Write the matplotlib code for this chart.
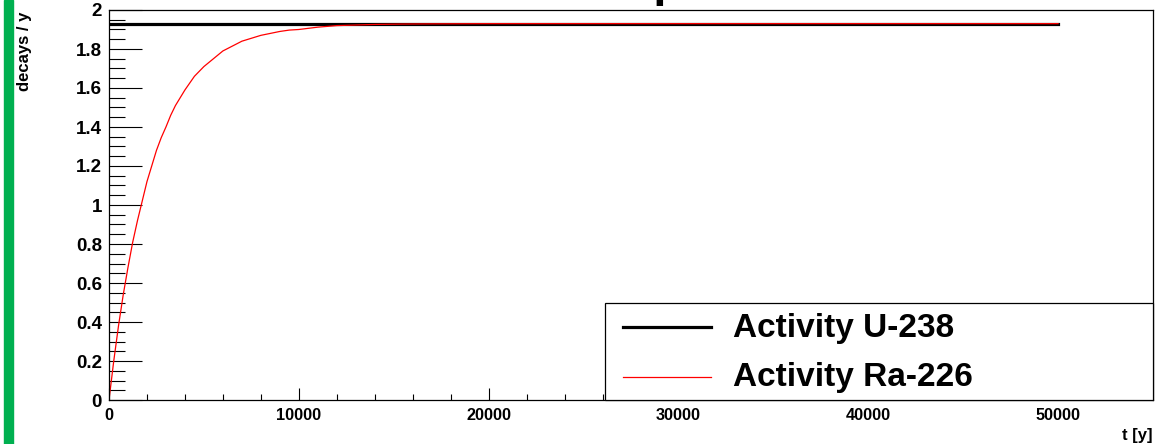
"""plot.py: activity of U-238 and Ra-226 versus time, ROOT-like style"""

import numpy as np
import matplotlib.pyplot as plt
from matplotlib.patches import Rectangle
from matplotlib.lines import Line2D
from matplotlib.ticker import MultipleLocator

# data
t_u238 = [0, 50000]
act_u238 = [1.93, 1.93]

t_ra226 = [0, 250, 500, 750, 1000, 1250, 1500, 1750, 2000, 2250, 2500, 2750,
           3000, 3250, 3500, 3750, 4000, 4250, 4500, 5000, 5500, 6000, 6500,
           7000, 7500, 8000, 8500, 9000, 9500, 10000, 11000, 12000, 13000,
           14000, 15500, 17000, 20000, 30000, 40000, 50000]
act_ra226 = [0.0, 0.20, 0.38, 0.54, 0.68, 0.81, 0.92, 1.02, 1.12, 1.20, 1.28,
             1.345, 1.40, 1.46, 1.51, 1.55, 1.59, 1.625, 1.66, 1.71, 1.75,
             1.79, 1.815, 1.84, 1.855, 1.87, 1.88, 1.89, 1.897, 1.90, 1.912,
             1.92, 1.923, 1.926, 1.928, 1.929, 1.93, 1.93, 1.93, 1.93]

labels = ['Activity U-238', 'Activity Ra-226']
title = 'Ra-226 build-up'

plt.rcParams['font.family'] = ['Liberation Sans', 'DejaVu Sans']
plt.rcParams['font.weight'] = 'bold'

W, H = 1167, 444
fig = plt.figure(figsize=(W / 100, H / 100), dpi=100)
ax = fig.add_axes([109 / W, 1 - 400 / H, 1044 / W, 390 / H])

# green strip on the left edge
fig.patches.append(Rectangle((4 / W, 0), 9 / W, 1, transform=fig.transFigure,
                             color='#00b050', zorder=0))

l1, = ax.plot(t_u238, act_u238, color='black', lw=2.3, label=labels[0])
l2, = ax.plot(t_ra226, act_ra226, color='red', lw=0.9, label=labels[1])

ax.set_xlim(0, 55000)
ax.set_ylim(0, 2)

ax.xaxis.set_minor_locator(MultipleLocator(2000))
ax.yaxis.set_minor_locator(MultipleLocator(0.05))
ax.set_xticks(np.arange(0, 60000, 10000))
ax.set_xticklabels([str(v) for v in range(0, 60000, 10000)])
ax.set_yticks(np.arange(0, 2.01, 0.2))
ax.set_yticklabels(['0', '0.2', '0.4', '0.6', '0.8', '1', '1.2', '1.4', '1.6', '1.8', '2'])

ax.tick_params(axis='both', which='both', direction='in', width=0.8,
               top=False, right=False)
ax.tick_params(axis='y', which='major', length=24, labelsize=13.5, pad=5)
ax.tick_params(axis='y', which='minor', length=11.5)
ax.tick_params(axis='x', which='major', length=8.6, labelsize=11.7, pad=6)
ax.tick_params(axis='x', which='minor', length=4.3)
for lab in ax.get_xticklabels() + ax.get_yticklabels():
    lab.set_fontweight('bold')
for s in ax.spines.values():
    s.set_linewidth(0.9)
    s.set_color('black')

# axis titles, ROOT puts them at the axis ends
fig.text(1153 / W, 1 - 435 / H, 't [y]', ha='right', va='center',
         fontsize=12, fontweight='bold')
fig.text(25 / W, 1 - 12 / H, 'decays / y', ha='center', va='top',
         rotation=90, fontsize=12, fontweight='bold')

# legend box drawn by hand (ROOT TLegend look)
fig.patches.append(Rectangle((605 / W, 1 - 400 / H), 548 / W, 97 / H,
                             transform=fig.transFigure, facecolor='white',
                             edgecolor='black', lw=0.9, zorder=5))
for line, lab, ypx, base in [(l1, labels[0], 327, 337), (l2, labels[1], 377, 386)]:
    fig.lines.append(Line2D([623 / W, 711 / W], [1 - ypx / H, 1 - ypx / H],
                            transform=fig.transFigure, color=line.get_color(),
                            lw=line.get_linewidth(), zorder=6))
    fig.text(733 / W, 1 - base / H, lab, ha='left', va='baseline',
             fontsize=24, fontweight='bold', zorder=6)

# title sits mostly above the visible area
fig.canvas.draw()
renderer = fig.canvas.get_renderer()
probe = fig.text(0, 0, title[:title.index('p')], fontsize=34, fontweight='bold')
w = probe.get_window_extent(renderer).width
probe.remove()
fig.text((657 - w - 4) / W, 1 + 4 / H, title, ha='left', va='baseline',
         fontsize=34, fontweight='bold')

fig.savefig('out.png', dpi=100)
